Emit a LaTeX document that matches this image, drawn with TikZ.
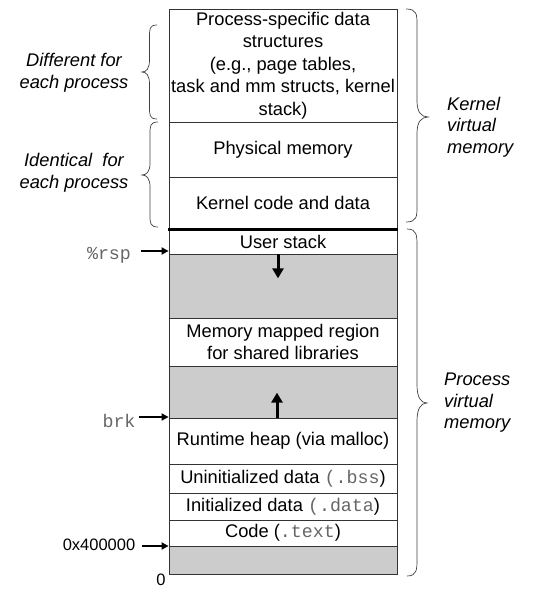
\documentclass[tikz,border=0pt]{standalone}
\usepackage{fontspec}
\setmainfont{Liberation Sans}
\setmonofont{Liberation Mono}
\usetikzlibrary{arrows.meta}
\newcommand\mono[1]{{\ttfamily\color{black!60}#1}}
% right/left curly brace: x, y1, y2, ymid, amplitude (signed), curl length
\newcommand\mybrace[6]{%
 \draw[bracestyle] (#1,#2) .. controls ({#1+0.5*(#5)},#2) and ({#1+0.5*(#5)},{#2+0.35*(#6)}) .. ({#1+0.5*(#5)},{#2+#6})
   -- ({#1+0.5*(#5)},{#4-#6}) .. controls ({#1+0.5*(#5)},{#4-0.3*(#6)}) and ({#1+0.7*(#5)},#4) .. ({#1+#5},#4)
   .. controls ({#1+0.7*(#5)},#4) and ({#1+0.5*(#5)},{#4+0.3*(#6)}) .. ({#1+0.5*(#5)},{#4+#6})
   -- ({#1+0.5*(#5)},{#3-#6}) .. controls ({#1+0.5*(#5)},{#3-0.35*(#6)}) and ({#1+0.5*(#5)},#3) .. (#1,#3);}
\begin{document}
\begin{tikzpicture}[x=1pt,y=-1pt,
  region/.style={draw=black!80, line width=0.8pt, minimum width=228pt, inner sep=0pt,
    align=center, font=\fontsize{18.3}{22.5}\selectfont},
  gapregion/.style={region, fill=black!20},
  sidelabel/.style={font=\fontsize{18.3}{21.5}\selectfont\itshape, inner sep=0pt},
  ptrlabel/.style={font=\fontsize{16.5}{19}\selectfont, inner sep=0pt},
  monolabel/.style={font=\fontsize{18.3}{22}\selectfont\ttfamily, text=black!60, inner sep=0pt},
  bigarrow/.style={line width=3pt, -{Triangle[width=11pt,length=10pt]}},
  ptr/.style={line width=1.8pt, -{Triangle[width=7pt,length=7pt]}},
  bracestyle/.style={draw=black!75, line width=0.7pt},
  thickline/.style={line width=2.6pt, line cap=butt}]
\useasboundingbox (0,0) rectangle (553,593);

% gray gaps
\node[gapregion, minimum height=64pt] (gap1) at (283,286) {};
\node[gapregion, minimum height=52pt] (gap2) at (283,392) {};
\node[gapregion, minimum height=28pt] (gap3) at (283,560) {};

% regions
\node[region, minimum height=113pt] (proc) at (283,65.5) {Process-specific data\\structures\\(e.g., page tables,\\task and mm structs, kernel\\stack)};
\node[region, minimum height=55pt] (phys) at (283,149.5) {Physical memory};
\node[region, minimum height=52pt] (kcode) at (283,203) {Kernel code and data};
\node[region, minimum height=25pt] (ustack) at (283,241.5) {User stack};
\node[region, minimum height=48pt] (mmap) at (283,342) {Memory mapped region\\for shared libraries};
\node[region, minimum height=46pt] (heap) at (283,441) {Runtime heap (via malloc)};
\node[region, minimum height=29pt] (bss) at (283,478.5) {Uninitialized data \mono{(.bss})};
\node[region, minimum height=27pt] (data) at (283,506.5) {Initialized data \mono{(.data})};
\node[region, minimum height=26pt] (code) at (283,533) {Code (\mono{.text})};

\draw[thickline] ([xshift=-1pt]kcode.south west) -- ([xshift=1pt]kcode.south east);

% growth arrows
\draw[bigarrow] ([xshift=-5pt]ustack.south) -- ++(0,24);
\draw[bigarrow] ([xshift=-6pt]heap.north) -- ++(0,-25);

% pointer labels
\node[monolabel] (rsp) at (109,255) {\%rsp};
\node[monolabel] (brk) at (119,421) {brk};
\node[ptrlabel] (addr) at (99,545) {0x400000};
\node[ptrlabel] (zero) at (161,580) {0};
\coordinate (rspT) at (141,251);
\coordinate (brkT) at (139,417);
\coordinate (addrT) at (142,546);
\draw[ptr] (rspT) -- (rspT -| ustack.west);
\draw[ptr] (brkT) -- (brkT -| heap.west);
\draw[ptr] (addrT) -- (addrT -| code.west);

% braces
\mybrace{157}{25}{119}{72}{-15}{12}
\mybrace{158}{122}{227}{175}{-16}{12}
\mybrace{406}{9}{222}{117}{22}{16}
\mybrace{407}{229}{576}{403}{20}{18}

% side labels
\node[sidelabel, align=center] (diff) at (74,73) {Different for\\each process};
\node[sidelabel, align=center] (ident) at (74,173) {Identical~ for\\each process};
\node[sidelabel, align=left, anchor=west] (kvm) at (447,127) {Kernel\\virtual\\memory};
\node[sidelabel, align=left, anchor=west] (pvm) at (444,403) {Process\\virtual\\memory};
\end{tikzpicture}
\end{document}
